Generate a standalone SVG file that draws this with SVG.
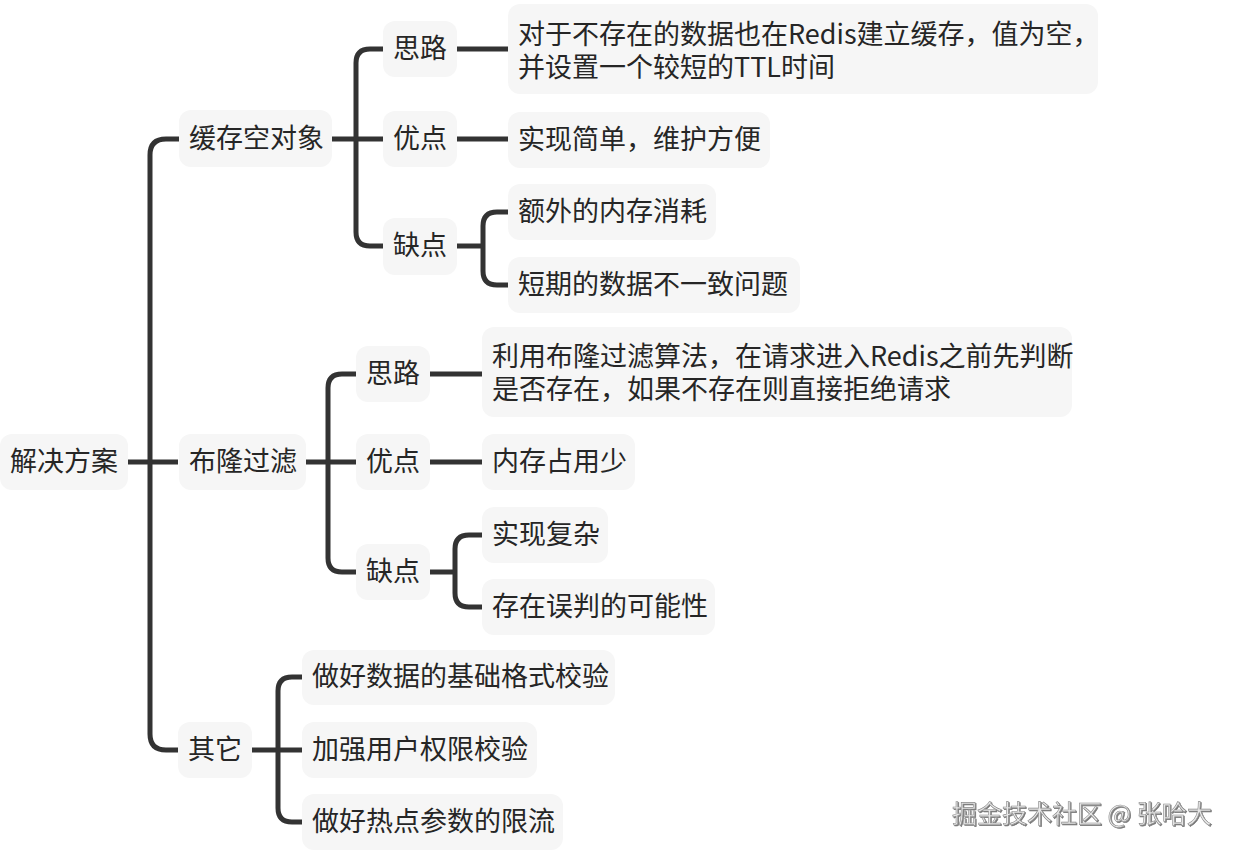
<svg xmlns="http://www.w3.org/2000/svg" width="1236" height="851" viewBox="0 0 1236 851">
<defs>
<style>
.box{fill:#f6f6f6;}
.t{font-family:"Noto Sans CJK SC","Noto Sans",sans-serif;font-size:27px;fill:#262626;}
.c{fill:none;stroke:#333333;stroke-width:5;}
.wm{font-family:"Noto Sans CJK SC","Noto Sans",sans-serif;font-size:25px;fill:#e8e8e8;stroke:#8a8a8a;stroke-width:0.6;}
</style>
<filter id="sh" x="-5%" y="-20%" width="110%" height="140%">
<feDropShadow dx="1" dy="1" stdDeviation="0.6" flood-color="#555" flood-opacity="0.8"/>
</filter>
</defs>
<rect width="1236" height="851" fill="#ffffff"/>
<g id="connectors">
<path class="c" d="M128,462 H178"/>
<path class="c" d="M179,139 H166 Q150,139 150,155 V734 Q150,750 166,750 H178"/>
<path class="c" d="M332,139 H383"/>
<path class="c" d="M383,49 H370 Q356,49 356,63 V232 Q356,246 370,246 H383"/>
<path class="c" d="M457,49 H508"/>
<path class="c" d="M457,139 H508"/>
<path class="c" d="M457,246 H483"/>
<path class="c" d="M508,212 H497 Q483,212 483,226 V271 Q483,285 497,285 H508"/>
<path class="c" d="M306,462 H356"/>
<path class="c" d="M356,374 H342 Q328,374 328,388 V558 Q328,572 342,572 H356"/>
<path class="c" d="M430,374 H482"/>
<path class="c" d="M430,462 H482"/>
<path class="c" d="M430,572 H455"/>
<path class="c" d="M482,535 H469 Q455,535 455,549 V593 Q455,607 469,607 H482"/>
<path class="c" d="M252,750 H302"/>
<path class="c" d="M302,677 H292 Q278,677 278,691 V808 Q278,822 292,822 H302"/>
</g>
<g id="root"><rect class="box" x="0" y="434" width="128" height="56" rx="12"/><text class="t" x="10" y="471">解决方案</text></g>
<g id="n1"><rect class="box" x="179" y="110" width="153" height="57" rx="12"/><text class="t" x="189" y="148">缓存空对象</text></g>
<g id="n1a"><rect class="box" x="383" y="21" width="74" height="56" rx="12"/><text class="t" x="393" y="58">思路</text></g>
<g id="n1b"><rect class="box" x="383" y="111" width="74" height="56" rx="12"/><text class="t" x="393" y="148">优点</text></g>
<g id="n1c"><rect class="box" x="383" y="218" width="74" height="57" rx="12"/><text class="t" x="393" y="255">缺点</text></g>
<g id="n1a1"><rect class="box" x="508" y="4" width="590" height="90" rx="12"/><text class="t"><tspan x="518" y="44">对于不存在的数据也在Redis建立缓存，值为空，</tspan><tspan x="518" y="77">并设置一个较短的TTL时间</tspan></text></g>
<g id="n1b1"><rect class="box" x="508" y="112" width="262" height="56" rx="12"/><text class="t" x="518" y="149">实现简单，维护方便</text></g>
<g id="n1c1"><rect class="box" x="508" y="184" width="208" height="56" rx="12"/><text class="t" x="518" y="221">额外的内存消耗</text></g>
<g id="n1c2"><rect class="box" x="508" y="257" width="292" height="56" rx="12"/><text class="t" x="518" y="294">短期的数据不一致问题</text></g>
<g id="n2"><rect class="box" x="179" y="434" width="127" height="56" rx="12"/><text class="t" x="189" y="471">布隆过滤</text></g>
<g id="n2a"><rect class="box" x="356" y="346" width="74" height="56" rx="12"/><text class="t" x="366" y="383">思路</text></g>
<g id="n2b"><rect class="box" x="356" y="434" width="74" height="56" rx="12"/><text class="t" x="366" y="471">优点</text></g>
<g id="n2c"><rect class="box" x="356" y="544" width="74" height="56" rx="12"/><text class="t" x="366" y="581">缺点</text></g>
<g id="n2a1"><rect class="box" x="482" y="327" width="590" height="90" rx="12"/><text class="t"><tspan x="492" y="366">利用布隆过滤算法，在请求进入Redis之前先判断</tspan><tspan x="492" y="399">是否存在，如果不存在则直接拒绝请求</tspan></text></g>
<g id="n2b1"><rect class="box" x="482" y="434" width="153" height="56" rx="12"/><text class="t" x="492" y="471">内存占用少</text></g>
<g id="n2c1"><rect class="box" x="482" y="507" width="126" height="56" rx="12"/><text class="t" x="492" y="544">实现复杂</text></g>
<g id="n2c2"><rect class="box" x="482" y="579" width="233" height="56" rx="12"/><text class="t" x="492" y="616">存在误判的可能性</text></g>
<g id="n3"><rect class="box" x="178" y="722" width="74" height="56" rx="12"/><text class="t" x="188" y="759">其它</text></g>
<g id="n3a"><rect class="box" x="302" y="650" width="313" height="55" rx="12"/><text class="t" x="312" y="686">做好数据的基础格式校验</text></g>
<g id="n3b"><rect class="box" x="302" y="722" width="235" height="56" rx="12"/><text class="t" x="312" y="759">加强用户权限校验</text></g>
<g id="n3c"><rect class="box" x="302" y="794" width="261" height="56" rx="12"/><text class="t" x="312" y="831">做好热点参数的限流</text></g>
<text class="wm" x="952" y="823" filter="url(#sh)">掘金技术社区 @ 张哈大</text>
</svg>
